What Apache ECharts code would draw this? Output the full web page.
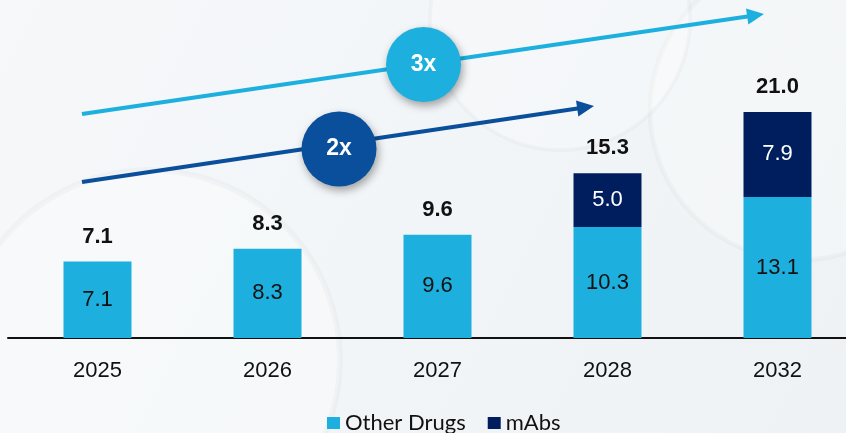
<!DOCTYPE html>
<html>
<head>
<meta charset="utf-8">
<script src="https://cdn.jsdelivr.net/npm/echarts@6/dist/echarts.min.js"></script>
<style>
html,body{margin:0;padding:0;}
#chart{width:846px;height:433px;}
</style>
</head>
<body>
<div id="chart"></div>
<script>
var categories = ['2025', '2026', '2027', '2028', '2032'];
var otherDrugs = [7.1, 8.3, 9.6, 10.3, 13.1];
var mAbs = [null, null, null, 5.0, 7.9];
var totals = [7.1, 8.3, 9.6, 15.3, 21.0];
var growthLabels = ['3x', '2x'];

var LIGHT = '#1DB0DF';
var NAVY = '#001E5E';
var DARK = '#0A4F9B';

var chart = echarts.init(document.getElementById('chart'), null, {renderer: 'canvas'});

function arrow(x1, y1, x2, y2, color, z) {
  var ang = Math.atan2(y2 - y1, x2 - x1);
  var headLen = 17, headHalf = 8;
  var bx = x2 - headLen * Math.cos(ang), by = y2 - headLen * Math.sin(ang);
  var px = -Math.sin(ang), py = Math.cos(ang);
  return [
    {type: 'line', z: z, shape: {x1: x1, y1: y1, x2: bx + 2 * Math.cos(ang), y2: by + 2 * Math.sin(ang)}, style: {stroke: color, lineWidth: 4}},
    {type: 'polygon', z: z, shape: {points: [[x2, y2], [bx + px * headHalf, by + py * headHalf], [bx - px * headHalf, by - py * headHalf]]}, style: {fill: color}}
  ];
}
function badge(cx, cy, color, text) {
  return [
    {type: 'circle', z: 10, shape: {cx: cx, cy: cy, r: 37.5}, style: {fill: color, shadowBlur: 8, shadowOffsetX: 2, shadowOffsetY: 4, shadowColor: 'rgba(0,0,0,0.35)'}},
    {type: 'text', z: 11, x: cx, y: cy, style: {text: text, fill: '#ffffff', fontSize: 23, fontWeight: 'bold', fontFamily: '"Liberation Sans", Arial, sans-serif', align: 'center', verticalAlign: 'middle', shadowBlur: 0}}
  ];
}

var graphics = [
  {type: 'circle', z: -5, silent: true, shape: {cx: 150, cy: 360, r: 190}, style: {fill: 'rgba(255,255,255,0.3)', stroke: 'rgba(0,0,0,0.025)', lineWidth: 6}},
  {type: 'circle', z: -5, silent: true, shape: {cx: 800, cy: 110, r: 150}, style: {fill: 'rgba(255,255,255,0.25)', stroke: 'rgba(0,0,0,0.022)', lineWidth: 5}},
  {type: 'circle', z: -5, silent: true, shape: {cx: 560, cy: 20, r: 130}, style: {fill: 'rgba(255,255,255,0.25)', stroke: 'rgba(0,0,0,0.025)', lineWidth: 4}}
];
graphics = graphics.concat(arrow(82, 114, 764, 14, LIGHT, 5));
graphics = graphics.concat(arrow(82, 182, 594, 106, DARK, 5));
graphics = graphics.concat(badge(423.5, 64.5, LIGHT, growthLabels[0]));
graphics = graphics.concat(badge(339, 149, DARK, growthLabels[1]));

var option = {
  backgroundColor: new echarts.graphic.LinearGradient(0, 0, 1, 1, [
    {offset: 0, color: '#f6f8fa'},
    {offset: 1, color: '#eef2f5'}
  ]),
  animation: false,
  textStyle: {fontFamily: '"Liberation Sans", Arial, sans-serif'},
  grid: [
    {left: 97.5, width: 680, top: 15, bottom: 95},
    {left: 8, right: 0, top: 15, bottom: 95}
  ],
  legend: {
    data: ['Other Drugs', 'mAbs'],
    left: 322, top: 407,
    icon: 'rect', itemWidth: 13, itemHeight: 12, itemGap: 22,
    textStyle: {fontFamily: 'Lato, "Open Sans", sans-serif', fontSize: 22, color: '#111'}
  },
  xAxis: [
    {
      type: 'category', gridIndex: 0,
      data: categories,
      boundaryGap: false,
      axisLine: {show: false},
      axisTick: {show: false},
      splitLine: {show: false},
      axisLabel: {fontSize: 22, color: '#111', margin: 22}
    },
    {
      type: 'value', gridIndex: 1, min: 0, max: 1,
      axisLine: {show: true, onZero: false, lineStyle: {color: '#111', width: 2}},
      axisTick: {show: false}, axisLabel: {show: false}, splitLine: {show: false}
    }
  ],
  yAxis: [
    {type: 'value', gridIndex: 0, min: 0, max: 30, show: false},
    {type: 'value', gridIndex: 1, min: 0, max: 1, show: false}
  ],
  series: [
    {
      name: 'Other Drugs', type: 'bar', stack: 's', barWidth: 68, clip: false,
      data: otherDrugs,
      itemStyle: {color: LIGHT},
      label: {show: true, position: 'inside', fontSize: 22, color: '#111', formatter: function (p) { return p.value.toFixed(1); }}
    },
    {
      name: 'mAbs', type: 'bar', stack: 's', barWidth: 68, clip: false,
      data: mAbs,
      itemStyle: {color: NAVY},
      label: {show: true, position: 'inside', fontSize: 22, color: '#fff', formatter: function (p) { return p.value == null ? '' : p.value.toFixed(1); }}
    },
    {
      name: 'Total', type: 'bar', stack: 's', barWidth: 68, clip: false,
      data: totals.map(function () { return 0; }),
      itemStyle: {color: 'transparent'},
      label: {show: true, position: 'top', distance: 14, fontSize: 22, fontWeight: 'bold', color: '#111',
        formatter: function (p) { return totals[p.dataIndex].toFixed(1); }}
    }
  ],
  graphic: graphics
};
chart.setOption(option);
</script>
</body>
</html>
